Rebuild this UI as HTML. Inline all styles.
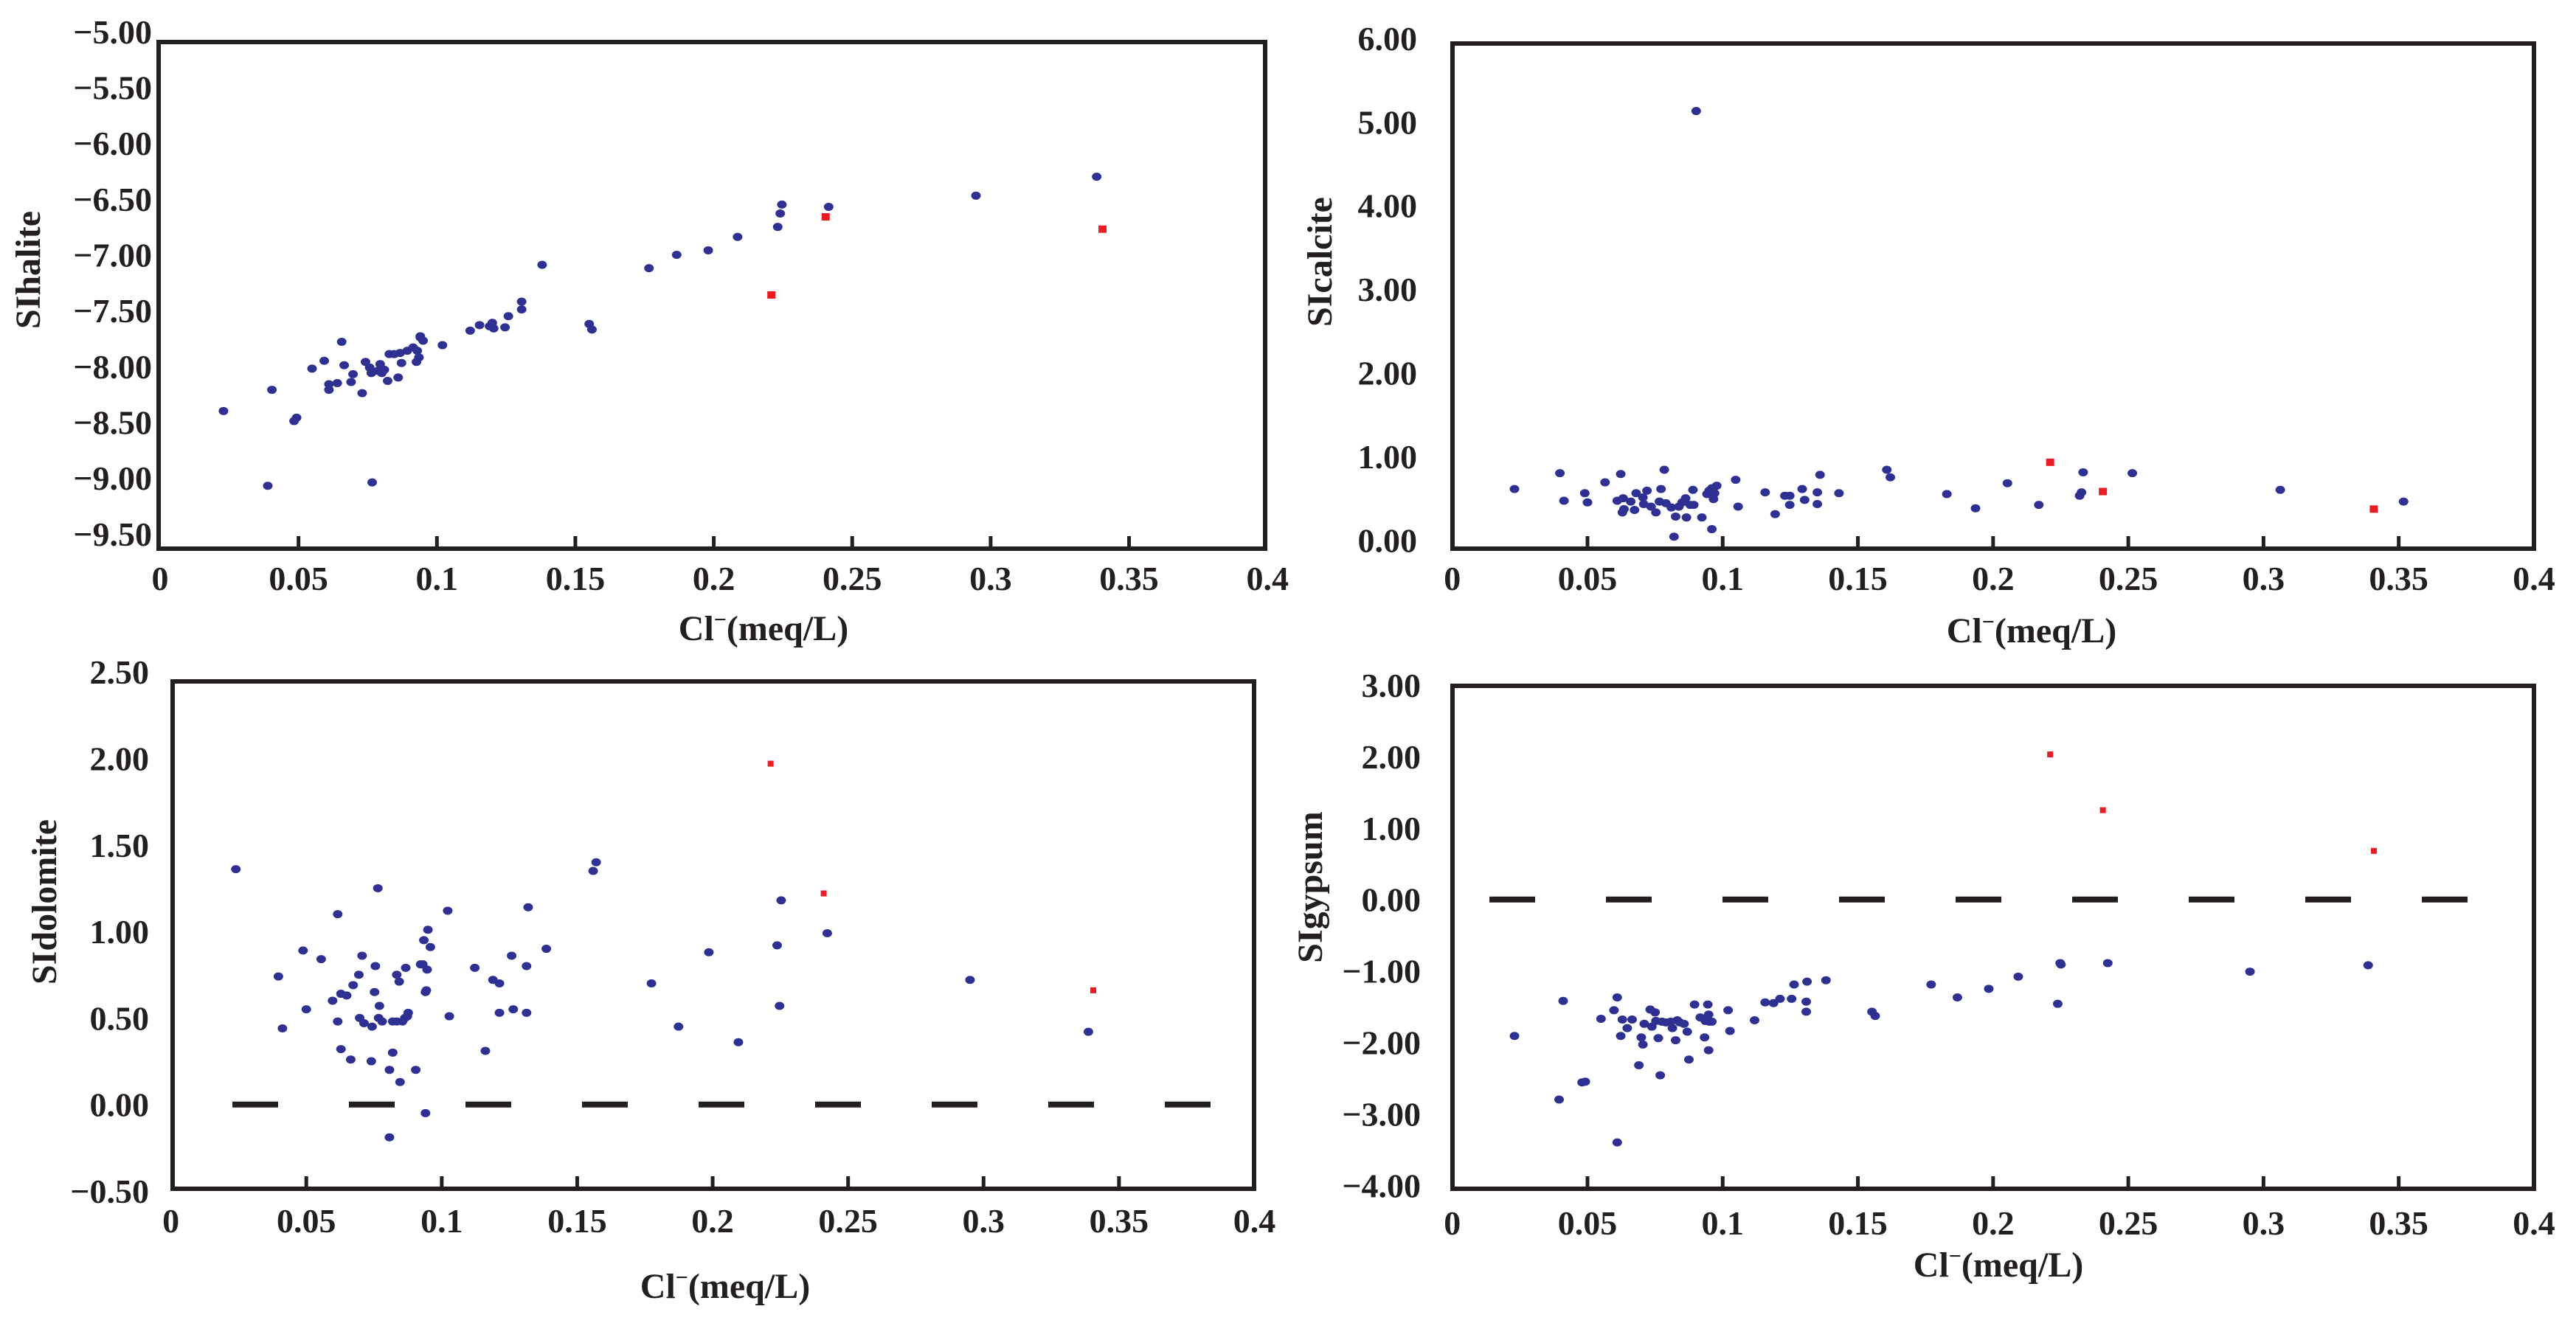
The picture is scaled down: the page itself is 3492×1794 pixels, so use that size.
<!DOCTYPE html>
<html><head><meta charset="utf-8"><title>SI vs Cl</title>
<style>
html,body{margin:0;padding:0;background:#fff;overflow:hidden;}
svg{display:block;}
text{font-family:"Liberation Serif",serif;fill:#231f20;}
.tick{font-size:46px;font-weight:bold;}
.ttl{font-size:48px;font-weight:bold;}
</style></head>
<body>
<svg id="fig" width="3492" height="1794" viewBox="0 0 3492 1794" xmlns="http://www.w3.org/2000/svg"></svg>
<script>
// ---- Panel A: SI halite ----
const haliteX = [0.0229,0.0389,0.0404,0.0484,0.0493,0.0549,0.0593,0.061,0.061,0.064,0.0656,0.0665,0.069,0.0697,0.073,0.0742,0.0757,0.0763,0.0766,0.0786,0.0801,0.081,0.0795,0.0822,0.0828,0.0846,0.0867,0.086,0.0872,0.0893,0.0914,0.0926,0.0935,0.0929,0.094,0.095,0.094,0.102,0.112,0.1154,0.119,0.1205,0.120,0.1246,0.1258,0.1306,0.1306,0.138,0.155,0.156,0.1766,0.1866,0.198,0.2086,0.2231,0.224,0.2246,0.2415,0.2947,0.3383];
const haliteY = [-8.40,-9.07,-8.21,-8.49,-8.46,-8.02,-7.95,-8.16,-8.21,-8.15,-7.78,-7.99,-8.14,-8.07,-8.24,-7.96,-8.01,-8.06,-9.04,-8.04,-8.06,-8.03,-7.98,-8.13,-7.89,-7.89,-7.88,-8.10,-7.97,-7.86,-7.83,-7.96,-7.92,-7.86,-7.74,-7.77,-7.73,-7.81,-7.68,-7.63,-7.64,-7.66,-7.61,-7.65,-7.55,-7.49,-7.42,-7.09,-7.62,-7.67,-7.12,-7.00,-6.96,-6.84,-6.75,-6.63,-6.55,-6.57,-6.47,-6.30];
const haliteRedX = [0.2208,0.2404,0.3404];
const haliteRedY = [-7.36,-6.66,-6.77];
const haliteTicks = ["−5.00","−5.50","−6.00","−6.50","−7.00","−7.50","−8.00","−8.50","−9.00","−9.50"];
const haliteTickVals = [-5,-5.5,-6,-6.5,-7,-7.5,-8,-8.5,-9,-9.5];

// ---- Panel B: SI calcite ----
const calciteX = [0.023,0.0398,0.0413,0.049,0.050,0.0565,0.061,0.0623,0.0632,0.0629,0.0635,0.066,0.0674,0.068,0.0708,0.0705,0.072,0.0735,0.0753,0.0766,0.0772,0.0784,0.079,0.081,0.082,0.0826,0.0838,0.085,0.0863,0.0866,0.088,0.0893,0.089,0.0902,0.0923,0.0942,0.095,0.096,0.097,0.0966,0.0978,0.096,0.1048,0.1057,0.1157,0.1194,0.123,0.1248,0.1248,0.1294,0.1303,0.135,0.135,0.136,0.143,0.1607,0.162,0.1829,0.1935,0.2053,0.2169,0.232,0.2327,0.2333,0.2515,0.3062,0.3518];
const calciteY = [0.61,0.80,0.47,0.56,0.45,0.69,0.47,0.79,0.50,0.33,0.37,0.46,0.36,0.56,0.43,0.51,0.59,0.40,0.33,0.46,0.61,0.84,0.44,0.39,0.04,0.28,0.40,0.45,0.50,0.27,0.42,0.42,0.60,5.13,0.27,0.55,0.59,0.62,0.56,0.49,0.65,0.13,0.72,0.40,0.57,0.31,0.53,0.53,0.42,0.61,0.48,0.57,0.43,0.78,0.56,0.84,0.75,0.55,0.38,0.68,0.42,0.53,0.57,0.81,0.80,0.60,0.46];
const calciteRedX = [0.2211,0.2406,0.3408];
const calciteRedY = [0.93,0.58,0.37];
const calciteTicks = ["6.00","5.00","4.00","3.00","2.00","1.00","0.00"];
const calciteTickVals = [6,5,4,3,2,1,0];

// ---- Panel C: SI dolomite ----
const dolomiteX = [0.024,0.0397,0.0412,0.0488,0.05,0.0555,0.0597,0.0616,0.0616,0.0628,0.0649,0.0628,0.0664,0.0673,0.0694,0.0697,0.0706,0.0713,0.074,0.0743,0.0752,0.0755,0.0764,0.0767,0.077,0.078,0.0807,0.0807,0.0819,0.0819,0.0834,0.0834,0.0843,0.0846,0.0855,0.0867,0.0873,0.0876,0.0864,0.0904,0.0922,0.093,0.0934,0.094,0.094,0.0943,0.0946,0.0949,0.0958,0.1022,0.1028,0.1122,0.1161,0.1189,0.1213,0.1213,0.1258,0.1264,0.1313,0.1313,0.1319,0.1386,0.1559,0.157,0.1774,0.1874,0.1986,0.2095,0.2238,0.2247,0.2253,0.2423,0.295,0.3387];
const dolomiteY = [1.36,0.74,0.44,0.89,0.55,0.84,0.60,1.10,0.48,0.64,0.63,0.32,0.26,0.69,0.75,0.50,0.86,0.47,0.25,0.45,0.65,0.80,1.25,0.50,0.57,0.48,0.20,-0.19,0.30,0.48,0.48,0.75,0.71,0.13,0.48,0.79,0.51,0.53,0.50,0.20,0.81,0.81,0.95,-0.05,0.65,0.66,0.78,1.01,0.91,1.12,0.51,0.79,0.31,0.72,0.70,0.53,0.86,0.55,0.80,0.53,1.14,0.90,1.35,1.40,0.70,0.45,0.88,0.36,0.92,0.57,1.18,0.99,0.72,0.42];
const dolomiteRedX = [0.2214,0.241,0.3405];
const dolomiteRedY = [1.97,1.22,0.66];
const dolomiteTicks = ["2.50","2.00","1.50","1.00","0.50","0.00","−0.50"];
const dolomiteTickVals = [2.5,2,1.5,1,0.5,0,-0.5];

// ---- Panel D: SI gypsum ----
const gypsumX = [0.023,0.0395,0.041,0.048,0.0492,0.055,0.0598,0.061,0.061,0.0623,0.0629,0.0647,0.0665,0.069,0.0699,0.0705,0.071,0.0732,0.0738,0.075,0.0753,0.0762,0.0769,0.0775,0.079,0.0808,0.0814,0.0826,0.0832,0.0841,0.0857,0.0869,0.0875,0.0896,0.0917,0.0933,0.0936,0.0945,0.0948,0.0951,0.096,0.0948,0.102,0.1027,0.1118,0.1157,0.1188,0.1212,0.1255,0.1264,0.1309,0.1309,0.1312,0.1382,0.1552,0.1564,0.1771,0.1868,0.1984,0.2093,0.2239,0.2248,0.2251,0.2424,0.295,0.3387];
const gypsumY = [-1.91,-2.80,-1.42,-2.56,-2.55,-1.67,-1.55,-1.37,-3.40,-1.91,-1.68,-1.80,-1.68,-2.32,-1.93,-2.03,-1.74,-1.54,-1.78,-1.58,-1.70,-1.94,-2.46,-1.71,-1.72,-1.71,-1.80,-1.97,-1.69,-1.72,-1.74,-1.85,-2.24,-1.47,-1.65,-1.93,-1.70,-1.47,-1.61,-1.71,-1.71,-2.11,-1.55,-1.84,-1.69,-1.44,-1.45,-1.39,-1.39,-1.19,-1.43,-1.57,-1.15,-1.13,-1.57,-1.63,-1.19,-1.37,-1.25,-1.08,-1.46,-0.89,-0.91,-0.89,-1.01,-0.92];
const gypsumRedX = [0.2211,0.2406,0.3408];
const gypsumRedY = [2.03,1.25,0.68];
const gypsumTicks = ["3.00","2.00","1.00","0.00","−1.00","−2.00","−3.00","−4.00"];
const gypsumTickVals = [3,2,1,0,-1,-2,-3,-4];

const xTickLabels = ["0","0.05","0.1","0.15","0.2","0.25","0.3","0.35","0.4"];
const xTickVals = [0,0.05,0.1,0.15,0.2,0.25,0.3,0.35,0.4];

const NS = "http://www.w3.org/2000/svg";
const svg = document.getElementById('fig');
function mk(tag, attrs, parent){
  const e = document.createElementNS(NS, tag);
  for (const k in attrs) e.setAttribute(k, attrs[k]);
  (parent||svg).appendChild(e);
  return e;
}

const panels = [
  {key:'halite', title:'SIhalite', xs:haliteX, ys:haliteY, rx:haliteRedX, ry:haliteRedY, tl:haliteTicks, tv:haliteTickVals,
   x0:217, xk:3753, y0:-713.6, yk:-151.3, box:[215,57,1715,744], ylabX:206, xlabY:800, ttlX:1035, ttlY:868, yTtlX:54, yTtlY:366, dashStart:0, sq:[11,10]},
  {key:'calcite', title:'SIcalcite', xs:calciteX, ys:calciteY, rx:calciteRedX, ry:calciteRedY, tl:calciteTicks, tv:calciteTickVals,
   x0:1968.7, xk:3665.6, y0:732.3, yk:-113.4, box:[1969,59,3435,744], ylabX:1921, xlabY:800, ttlX:2754, ttlY:871, yTtlX:1805, yTtlY:355, dashStart:0, sq:[11,10]},
  {key:'dolomite', title:'SIdolomite', xs:dolomiteX, ys:dolomiteY, rx:dolomiteRedX, ry:dolomiteRedY, tl:dolomiteTicks, tv:dolomiteTickVals,
   x0:231.6, xk:3672.3, y0:1497.7, yk:-234.6, box:[234,924,1700,1612], ylabX:202, xlabY:1671, ttlX:983, ttlY:1760, yTtlX:76, yTtlY:1223, dashStart:315, sq:[8,8]},
  {key:'gypsum', title:'SIgypsum', xs:gypsumX, ys:gypsumY, rx:gypsumRedX, ry:gypsumRedY, tl:gypsumTicks, tv:gypsumTickVals,
   x0:1968.7, xk:3665.6, y0:1219.7, yk:-96.9, box:[1969,930,3435,1612], ylabX:1926, xlabY:1674, ttlX:2709, ttlY:1731, yTtlX:1792, yTtlY:1203, dashStart:2019, sq:[8,8]}
];

panels.forEach(p => {
  const g = mk('g', {});
  
  
  const X = v => p.x0 + v * p.xk;
  const Y = v => p.y0 + v * p.yk;
  const [bx1, by1, bx2, by2] = p.box;

  xTickVals.forEach((v, i) => {
    if (i > 0 && i < xTickVals.length - 1) {
      const t = mk('line', {x1:X(v), x2:X(v), y1:by2, y2:by2-17, stroke:'#231f20', 'stroke-width':5}, g);
      
      
    }
    const lb = mk('text', {x:X(v), y:p.xlabY, 'text-anchor':'middle', 'class':'tick'}, g);
    lb.textContent = xTickLabels[i];
    
    
  });
  p.tv.forEach((v, i) => {
    const lb = mk('text', {x:p.ylabX, y:Y(v) + 16, 'text-anchor':'end', 'class':'tick'}, g);
    lb.textContent = p.tl[i];
    
    
  });

  if (p.dashStart) {
    const d = mk('line', {x1:p.dashStart, x2:bx2, y1:Y(0), y2:Y(0), stroke:'#231f20', 'stroke-width':8, 'stroke-dasharray':'62 96'}, g);
    
    
  }

  p.xs.forEach((xv, i) => {
    const c = mk('ellipse', {cx:X(xv), cy:Y(p.ys[i]), rx:6.5, ry:5.5, fill:'#2e3192'}, g);
    
    
  });
  p.rx.forEach((xv, i) => {
    const r = mk('rect', {x:X(xv)-p.sq[0]/2, y:Y(p.ry[i])-p.sq[1]/2, width:p.sq[0], height:p.sq[1], fill:'#ed1c24'}, g);
    
    
  });

  const box = mk('rect', {x:bx1, y:by1, width:bx2-bx1, height:by2-by1, fill:'none', stroke:'#231f20', 'stroke-width':6}, g);
  
  

  const yt = mk('text', {x:0, y:0, 'text-anchor':'middle', 'class':'ttl', transform:'translate(' + p.yTtlX + ',' + p.yTtlY + ') rotate(-90)'}, g);
  yt.textContent = p.title;
  
  

  const xt = mk('text', {x:p.ttlX, y:p.ttlY, 'text-anchor':'middle', 'class':'ttl'}, g);
  
  
  const s1 = mk('tspan', {}, xt); s1.textContent = 'Cl';
  const s2 = mk('tspan', {dy:-18, 'font-size':30}, xt); s2.textContent = '−';
  const s3 = mk('tspan', {dy:18}, xt); s3.textContent = '(meq/L)';
});
</script>
</body></html>
